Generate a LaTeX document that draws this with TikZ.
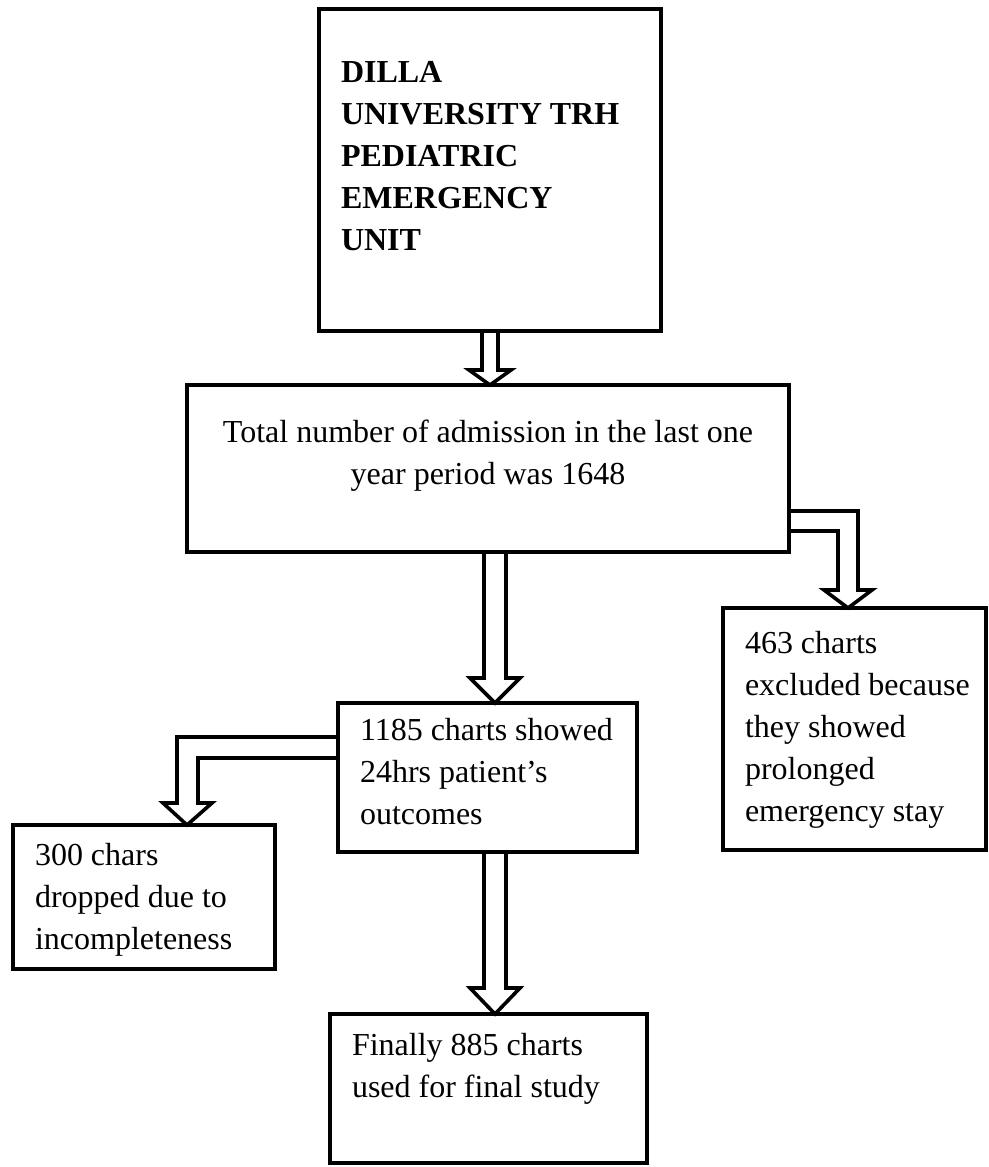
\documentclass[tikz,border=0pt]{standalone}
\usepackage{fontspec}
\setmainfont{Liberation Serif}
\usetikzlibrary{backgrounds}
\newcommand{\chartlines}[4]{\parbox[t][#1][t]{#2}{\raggedright\leftskip=11pt\rule{0pt}{#3}#4}}
\begin{document}
\begin{tikzpicture}[x=0.5pt,y=-0.5pt, line join=miter, font=\fontsize{16pt}{21pt}\selectfont]
            \tikzset{chart/.style={draw,line width=2.2pt,inner sep=0pt,outer sep=0pt,anchor=north west},
                     blockarrow/.style={draw,fill=white,line width=1.8pt}}
            \useasboundingbox (0,0) rectangle (989,1167);
            \node[chart] (unit) at (319,9) {\chartlines{161pt}{171pt}{36.5pt}{\bfseries DILLA\\UNIVERSITY TRH\\PEDIATRIC\\EMERGENCY\\UNIT}};
            \node[chart] (total) at (187,385) {\parbox[t][83.5pt][t]{301pt}{\centering\rule{0pt}{28.5pt}Total number of admission in the last one\\year period was 1648}};
            \node[chart] (main) at (338,703) {\chartlines{74.5pt}{149.5pt}{18.5pt}{1185 charts showed\\24hrs patient’s\\outcomes}};
            \node[chart] (excl) at (723,608) {\chartlines{121pt}{131.5pt}{22.5pt}{463 charts\\excluded because\\they showed\\prolonged\\emergency stay}};
            \node[chart] (drop) at (13,825) {\chartlines{72pt}{131pt}{20pt}{300 chars\\dropped due to\\incompleteness}};
            \node[chart] (final) at (330,1014) {\chartlines{74.5pt}{158.5pt}{20.5pt}{Finally 885 charts\\used for final study}};
            \begin{pgfonlayer}{background}
            \draw[blockarrow] (482,0 |- unit.south) -- (482,370) -- (469,370) -- (490,0 |- total.north) -- (511,370) -- (498,370) -- (498,0 |- unit.south) -- cycle;
            \draw[blockarrow] (484,0 |- total.south) -- (484,678) -- (470,678) -- (495,0 |- main.north) -- (520,678) -- (506,678) -- (506,0 |- total.south) -- cycle;
            \draw[blockarrow] (484,0 |- main.south) -- (484,988) -- (470,988) -- (495,0 |- final.north) -- (520,988) -- (506,988) -- (506,0 |- main.south) -- cycle;
            \draw[blockarrow] (total.east |- 0,511) -- (858,511) -- (858,590) -- (872,590) -- (848,0 |- excl.north) -- (824,590) -- (838,590) -- (838,531) -- (total.east |- 0,531) -- cycle;
            \draw[blockarrow] (main.west |- 0,737) -- (177,737) -- (177,803) -- (163,803) -- (187,0 |- drop.north) -- (212,803) -- (198,803) -- (198,758) -- (main.west |- 0,758) -- cycle;
            \end{pgfonlayer}
        \end{tikzpicture}
\end{document}
